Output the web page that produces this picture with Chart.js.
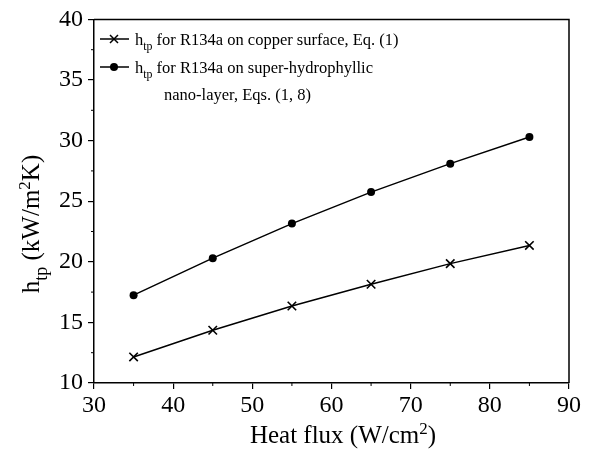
<!DOCTYPE html>
<html>
<head>
<meta charset="utf-8">
<script src="https://cdn.jsdelivr.net/npm/chart.js@4.4.1/dist/chart.umd.min.js"></script>
<style>
  html, body { margin: 0; padding: 0; background: #fff; }
  #wrap { width: 590px; height: 452px; }
</style>
</head>
<body>
<div id="wrap"><canvas id="chartHtp" width="590" height="452"></canvas></div>
<script>
// dados
const heatFlux = [35, 45, 55, 65, 75, 85];
const htpCopper = [12.15, 14.35, 16.35, 18.15, 19.85, 21.35];
const htpNano = [17.25, 20.3, 23.15, 25.75, 28.1, 30.3];
const xTicks = [30, 40, 50, 60, 70, 80, 90];
const yTicks = [10, 15, 20, 25, 30, 35, 40];

const serif = '"Liberation Serif", "Times New Roman", serif';

// escreve texto com sub/sobrescrito
function drawRich(ctx, parts, x, y, size) {
    let cx = x;
    parts.forEach(function(p) {
        let fs = size, dy = 0;
        if (p.sub) { fs = size * 0.72; dy = size * 0.3; }
        if (p.sup) { fs = size * 0.68; dy = -size * 0.38; }
        ctx.font = fs + 'px ' + serif;
        ctx.fillText(p.t, cx, y + dy);
        cx += ctx.measureText(p.t).width;
    });
    return cx - x;
}
function richWidth(ctx, parts, size) {
    let w = 0;
    parts.forEach(function(p) {
        let fs = size;
        if (p.sub) fs = size * 0.72;
        if (p.sup) fs = size * 0.68;
        ctx.font = fs + 'px ' + serif;
        w += ctx.measureText(p.t).width;
    });
    return w;
}

const extras = {
    id: 'extras',
    afterDraw: function(chart) {
        const ctx = chart.ctx;
        const a = chart.chartArea;
        const xs = chart.scales.x, ys = chart.scales.y;
        ctx.save();
        ctx.strokeStyle = '#000';
        ctx.fillStyle = '#000';
        ctx.lineWidth = 1.5;

        // caixa (topo e direita)
        ctx.beginPath();
        ctx.moveTo(a.left, a.top);
        ctx.lineTo(a.right, a.top);
        ctx.lineTo(a.right, a.bottom);
        ctx.stroke();

        // ticks menores
        ctx.lineWidth = 1;
        ctx.beginPath();
        for (let v = 35; v < 90; v += 10) {
            const px = xs.getPixelForValue(v);
            ctx.moveTo(px, a.bottom);
            ctx.lineTo(px, a.bottom + 3);
        }
        for (let v = 12.5; v < 40; v += 5) {
            const py = ys.getPixelForValue(v);
            ctx.moveTo(a.left, py);
            ctx.lineTo(a.left - 3, py);
        }
        ctx.stroke();

        // titulo eixo x
        ctx.textBaseline = 'alphabetic';
        const xt = [{t: 'Heat flux (W/cm'}, {t: '2', sup: true}, {t: ')'}];
        const xw = richWidth(ctx, xt, 25);
        drawRich(ctx, xt, 343 - xw / 2, 443, 25);

        // titulo eixo y
        const yt = [{t: 'h'}, {t: 'tp', sub: true}, {t: ' (kW/m'}, {t: '2', sup: true}, {t: 'K)'}];
        const yw = richWidth(ctx, yt, 25);
        ctx.save();
        ctx.translate(39, 224);
        ctx.rotate(-Math.PI / 2);
        drawRich(ctx, yt, -yw / 2, 0, 25);
        ctx.restore();

        // legenda
        ctx.lineWidth = 1.5;
        ctx.beginPath();
        ctx.moveTo(100, 39); ctx.lineTo(129, 39);
        ctx.moveTo(100, 67); ctx.lineTo(129, 67);
        ctx.stroke();
        ctx.beginPath();
        ctx.moveTo(110, 35); ctx.lineTo(118, 43);
        ctx.moveTo(118, 35); ctx.lineTo(110, 43);
        ctx.stroke();
        ctx.beginPath();
        ctx.arc(114, 67, 4, 0, Math.PI * 2);
        ctx.fill();
        drawRich(ctx, [{t: 'h'}, {t: 'tp', sub: true}, {t: ' for R134a on copper surface, Eq. (1)'}], 135, 45, 16.5);
        drawRich(ctx, [{t: 'h'}, {t: 'tp', sub: true}, {t: ' for R134a on super-hydrophyllic'}], 135, 73, 16.5);
        drawRich(ctx, [{t: 'nano-layer, Eqs. (1, 8)'}], 164, 100, 16.5);
        ctx.restore();
    }
};

const ctxHtp = document.getElementById('chartHtp').getContext('2d');
const chartHtp = new Chart(ctxHtp, {
    type: 'line',
    data: {
        datasets: [{
            label: 'htp for R134a on copper surface, Eq. (1)',
            data: heatFlux.map((x, i) => ({x: x, y: htpCopper[i]})),
            borderColor: '#000',
            backgroundColor: '#000',
            borderWidth: 1.5,
            pointStyle: 'crossRot',
            pointRadius: 6,
            pointBorderWidth: 1.6,
            tension: 0
        }, {
            label: 'htp for R134a on super-hydrophyllic nano-layer, Eqs. (1, 8)',
            data: heatFlux.map((x, i) => ({x: x, y: htpNano[i]})),
            borderColor: '#000',
            backgroundColor: '#000',
            borderWidth: 1.5,
            pointStyle: 'circle',
            pointRadius: 4,
            pointBorderWidth: 0,
            tension: 0
        }]
    },
    options: {
        responsive: false,
        animation: false,
        layout: {
            padding: { top: 18, right: 21, left: 0, bottom: 0 }
        },
        plugins: {
            legend: { display: false },
            tooltip: { enabled: false },
            title: { display: false }
        },
        scales: {
            x: {
                type: 'linear',
                min: 30,
                max: 90,
                afterBuildTicks: function(scale) {
                    scale.ticks = xTicks.map(v => ({value: v}));
                },
                afterFit: function(scale) { scale.height = 69; },
                grid: {
                    drawOnChartArea: false,
                    drawTicks: true,
                    tickLength: 6,
                    color: '#000',
                    lineWidth: 1.2
                },
                border: { display: true, color: '#000', width: 1.5 },
                ticks: {
                    color: '#000',
                    padding: 2,
                    maxRotation: 0,
                    font: { family: serif, size: 24 }
                }
            },
            y: {
                min: 10,
                max: 40,
                afterBuildTicks: function(scale) {
                    scale.ticks = yTicks.map(v => ({value: v}));
                },
                afterFit: function(scale) { scale.width = 94; },
                grid: {
                    drawOnChartArea: false,
                    drawTicks: true,
                    tickLength: 6,
                    color: '#000',
                    lineWidth: 1.2
                },
                border: { display: true, color: '#000', width: 1.5 },
                ticks: {
                    color: '#000',
                    padding: 5,
                    font: { family: serif, size: 24 }
                }
            }
        }
    },
    plugins: [extras]
});
</script>
</body>
</html>
